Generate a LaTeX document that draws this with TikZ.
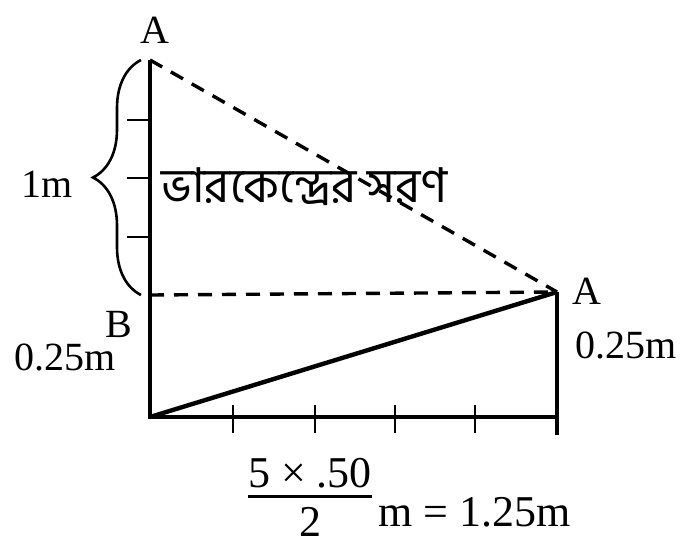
\documentclass[tikz,border=0pt]{standalone}
\usepackage{amsmath}
\usepackage{fontspec}
\setmainfont{Liberation Serif}
\newfontfamily\bnfont[Script=Bengali]{Hind Siliguri}
\usetikzlibrary{decorations.pathreplacing}

\begin{document}
\begin{tikzpicture}[
  x=0.5pt, y=-0.5pt,
  solid line/.style={line width=2.2pt},
  dash line/.style={line width=1.7pt, dash pattern=on 7pt off 5pt},
  tick/.style={line width=1.4pt},
  lbl/.style={inner sep=0pt, font=\fontsize{20}{22}\selectfont},
  big lbl/.style={inner sep=0pt, font=\fontsize{22}{24}\selectfont},
  bn/.style={inner sep=0pt, font=\bnfont\fontsize{24}{26}\selectfont}
]
\useasboundingbox (0,0) rectangle (692,559);

% Points
\coordinate (top) at (150,60);
\coordinate (b)   at (150,295);
\coordinate (o)   at (150,417);
\coordinate (a)   at (557,292);
\coordinate (c)   at (557,417);
\coordinate (cend) at (557,435);

% Labels
\node[lbl] (atop) at (155,30) {A};
\node[lbl] (aright) at (587,291) {A};
\node[lbl] (blab) at (119,324) {B};
\node[lbl] (hleft) at (65,357) {0.25m};
\node[lbl] (hright) at (626,345) {0.25m};
\node[lbl] (onem) at (47,184) {1m};
\node[bn, anchor=west] (shift) at (161,187) {ভারকেন্দ্রের সরণ};
\node[big lbl] (frac) at (310,497)
  {$\genfrac{}{}{1.2pt}{1}{\mbox{5 × .50}\rule[-3pt]{0pt}{3pt}}{\mbox{\rule{0pt}{18pt}2}}$};
\node[big lbl, anchor=west] (res) at (378,512) {m = 1.25m};

% Frame
\draw[solid line] (top) -- (o) -- (c) -- (cend);
\draw[solid line] (c) -- (a);
\draw[solid line] (o) -- (a);

% Dashed lines
\draw[dash line] (top) -- (a);
\draw[dash line] (b) -- (a);

% Ticks
\foreach \y in {120,178,237}
  \draw[tick] (127,\y) -- (top |- 0,\y);
\foreach \x in {233,315,395,475}
  \draw[tick] (\x,405) -- (\x,433);

% Brace
\draw[line width=1.3pt, decorate, decoration={brace, amplitude=24pt}]
  (141,295) -- (141,60);
\end{tikzpicture}
\end{document}
